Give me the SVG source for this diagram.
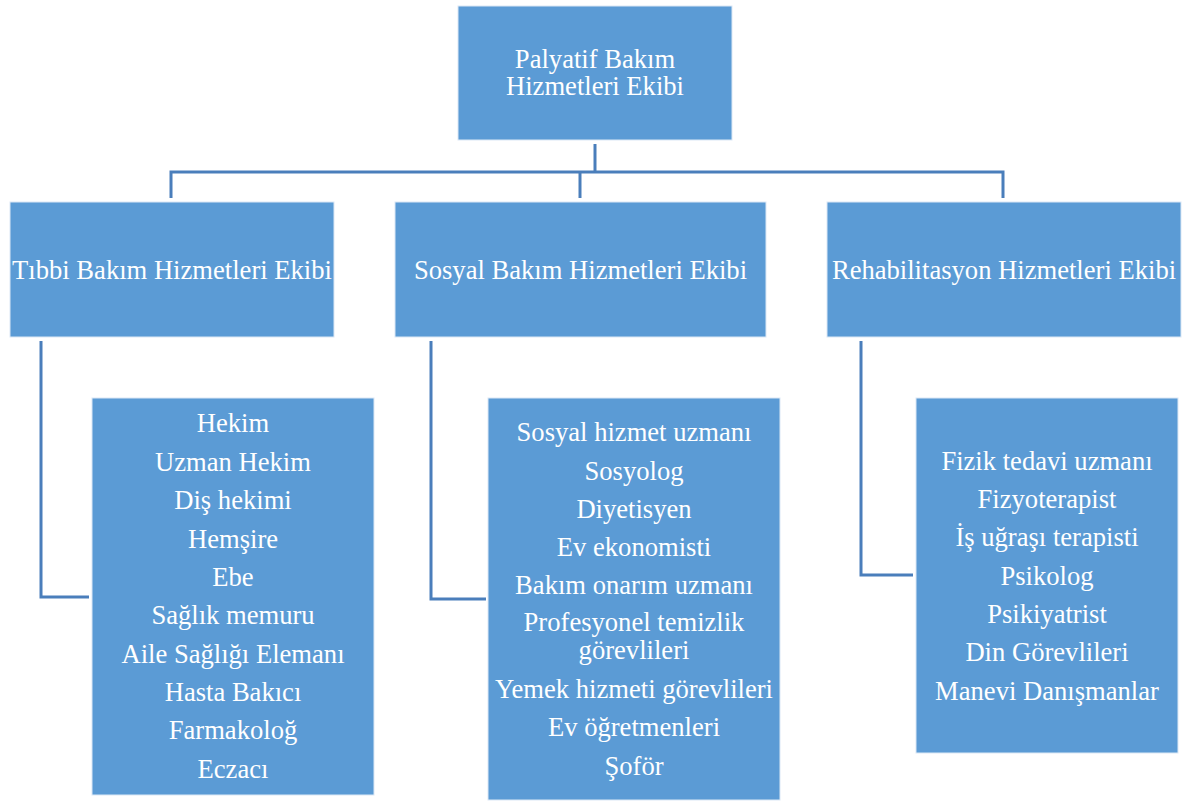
<svg xmlns="http://www.w3.org/2000/svg" width="1184" height="801" viewBox="0 0 1184 801">
<style>
.box{fill:#5B9BD5;stroke:#DCE8F5;stroke-width:1}
.t{font-family:"Liberation Serif","Times New Roman",serif;font-size:26.6px;fill:#FFFFFF;text-anchor:middle}
.c{fill:none;stroke:#4A7EBB;stroke-width:3}
</style>
<rect width="1184" height="801" fill="#FFFFFF"/>
<g id="connectors">
<path class="c" d="M595,144 V172"/>
<path class="c" d="M171,198 V172 H1003 V198"/>
<path class="c" d="M580,172 V198"/>
<path class="c" d="M41,341 V597 H89"/>
<path class="c" d="M431,341 V599 H486"/>
<path class="c" d="M861,341 V575 H913"/>
</g>
<g id="root">
<rect class="box" x="458" y="6" width="274" height="134"/>
<text class="t" x="595" y="68">Palyatif Bakım</text>
<text class="t" x="595" y="95">Hizmetleri Ekibi</text>
</g>
<g id="tibbi">
<rect class="box" x="10" y="202" width="324" height="135"/>
<text class="t" x="172" y="279">Tıbbi Bakım Hizmetleri Ekibi</text>
</g>
<g id="sosyal">
<rect class="box" x="395" y="202" width="371" height="135"/>
<text class="t" x="580.5" y="279">Sosyal Bakım Hizmetleri Ekibi</text>
</g>
<g id="rehab">
<rect class="box" x="827" y="202" width="354" height="135"/>
<text class="t" x="1004" y="279">Rehabilitasyon Hizmetleri Ekibi</text>
</g>
<g id="tibbi-list">
<rect class="box" x="92" y="398" width="282" height="397"/>
<text class="t" x="233" y="432">Hekim</text>
<text class="t" x="233" y="471">Uzman Hekim</text>
<text class="t" x="233" y="509">Diş hekimi</text>
<text class="t" x="233" y="548">Hemşire</text>
<text class="t" x="233" y="586">Ebe</text>
<text class="t" x="233" y="624">Sağlık memuru</text>
<text class="t" x="233" y="663">Aile Sağlığı Elemanı</text>
<text class="t" x="233" y="701">Hasta Bakıcı</text>
<text class="t" x="233" y="739">Farmakoloğ</text>
<text class="t" x="233" y="778">Eczacı</text>
</g>
<g id="sosyal-list">
<rect class="box" x="488" y="398" width="292" height="402"/>
<text class="t" x="634" y="441">Sosyal hizmet uzmanı</text>
<text class="t" x="634" y="480">Sosyolog</text>
<text class="t" x="634" y="518">Diyetisyen</text>
<text class="t" x="634" y="556">Ev ekonomisti</text>
<text class="t" x="634" y="594">Bakım onarım uzmanı</text>
<text class="t" x="634" y="631">Profesyonel temizlik</text>
<text class="t" x="634" y="659">görevlileri</text>
<text class="t" x="634" y="698">Yemek hizmeti görevlileri</text>
<text class="t" x="634" y="736">Ev öğretmenleri</text>
<text class="t" x="634" y="775">Şoför</text>
</g>
<g id="rehab-list">
<rect class="box" x="916" y="398" width="262" height="355"/>
<text class="t" x="1047" y="470">Fizik tedavi uzmanı</text>
<text class="t" x="1047" y="508">Fizyoterapist</text>
<text class="t" x="1047" y="546">İş uğraşı terapisti</text>
<text class="t" x="1047" y="585">Psikolog</text>
<text class="t" x="1047" y="623">Psikiyatrist</text>
<text class="t" x="1047" y="661">Din Görevlileri</text>
<text class="t" x="1047" y="700">Manevi Danışmanlar</text>
</g>
</svg>
